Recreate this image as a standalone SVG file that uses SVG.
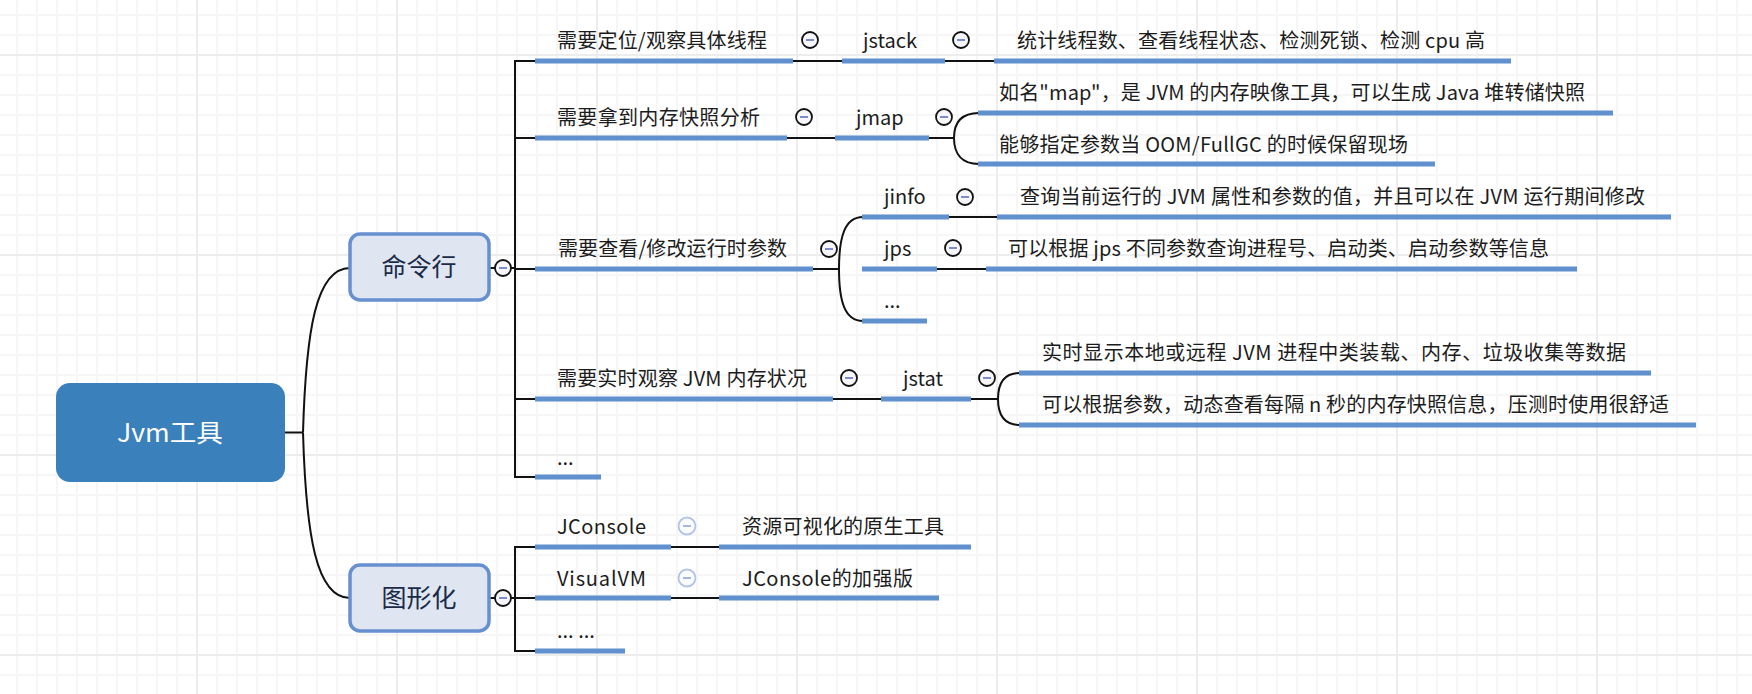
<svg xmlns="http://www.w3.org/2000/svg" width="1752" height="694" viewBox="0 0 1752 694">
<style>
.t{font-family:"Noto Sans CJK SC","Noto Sans",sans-serif;font-size:20px;fill:#1c1c1c}
.t1{font-family:"Noto Sans CJK SC","Noto Sans",sans-serif;font-size:25px;fill:#1b2a48;text-anchor:middle}
.rt{font-family:"Noto Sans CJK SC","Noto Sans",sans-serif;font-size:25px;fill:#ffffff;text-anchor:middle}
.ul{stroke:#6190cf;stroke-width:5;fill:none}
.ln{stroke:#111;stroke-width:2;fill:none}
.cb{fill:#f7f7fb;stroke:#111;stroke-width:1.8}
.cm{stroke:#7b8ecb;stroke-width:2}
.lcb{fill:#fbfcff;stroke:#b0c3ea;stroke-width:1.8}
.lcm{stroke:#a5b8e4;stroke-width:2}
.box{fill:#dfe6f1;stroke:#6690d0;stroke-width:3.5}
</style>
<defs>
<pattern id="minor" x="16" y="14" width="20" height="20" patternUnits="userSpaceOnUse">
<path d="M1 0V20M0 1H20" stroke="#f6f6f6" stroke-width="2"/>
</pattern>
<pattern id="major" x="196" y="54" width="200" height="200" patternUnits="userSpaceOnUse">
<path d="M1 0V200M0 1H200" stroke="#ededed" stroke-width="2"/>
</pattern>
</defs>
<rect width="1752" height="694" fill="#ffffff"/>
<rect width="1752" height="694" fill="url(#minor)"/>
<rect width="1752" height="694" fill="url(#major)"/>

<g id="connectors">
<path class="ln" d="M285 432.5H303"/>
<path class="ln" d="M303 432.5C306 330 316 268 350 268"/>
<path class="ln" d="M303 432.5C306 535 316 598 350 598"/>
<path class="ln" d="M489 268H495M511 268H515"/>
<path class="ln" d="M489 598H495M511 598H515"/>
<path class="ln" d="M537 61H515V477H537M515 138H537M515 269H537M515 399H537"/>
<path class="ln" d="M537 547H515V651H537M515 598H537"/>
<path class="ln" d="M792 61H843M944 61H995"/>
<path class="ln" d="M786 138H836M928 138H954"/>
<path class="ln" d="M979 113C962 113 954 122 954 138C954 154 962 164 979 164"/>
<path class="ln" d="M812 269H839"/>
<path class="ln" d="M863 217C845 217 839 236 839 269C839 302 845 321 863 321"/>
<path class="ln" d="M948 217H998M936 269H987"/>
<path class="ln" d="M832 399H883M970 399H998"/>
<path class="ln" d="M1020 373C1004 373 998 384 998 399C998 414 1004 425 1020 425"/>
<path class="ln" d="M670 547H720M670 598H720"/>
</g>

<g id="root">
<rect x="56" y="383" width="229" height="99" rx="14" fill="#3a81bb"/>
<text class="rt" x="170" y="442" textLength="106" lengthAdjust="spacingAndGlyphs">Jvm工具</text>
</g>

<g id="cmdline">
<rect class="box" x="350" y="234" width="139" height="66" rx="10"/>
<text class="t1" x="419" y="276">命令行</text>
<circle class="cb" cx="503" cy="268" r="8"/><path class="cm" d="M499 268H507"/>
</g>

<g id="gui">
<rect class="box" x="350" y="565" width="139" height="66" rx="10"/>
<text class="t1" x="419" y="607">图形化</text>
<circle class="cb" cx="503" cy="598" r="8"/><path class="cm" d="M499 598H507"/>
</g>

<g id="n-thread">
<path class="ul" d="M535 61H793"/>
<text class="t" x="557" y="48" textLength="210" lengthAdjust="spacing">需要定位/观察具体线程</text>
<circle class="cb" cx="810" cy="40" r="8"/><path class="cm" d="M806 40H814"/>
</g>
<g id="n-jstack">
<path class="ul" d="M842 61H945"/>
<text class="t" x="863" y="48">jstack</text>
<circle class="cb" cx="961" cy="40" r="8"/><path class="cm" d="M957 40H965"/>
</g>
<g id="n-jstack-desc">
<path class="ul" d="M994 61H1511"/>
<text class="t" x="1017" y="48" textLength="468" lengthAdjust="spacing">统计线程数、查看线程状态、检测死锁、检测 cpu 高</text>
</g>

<g id="n-heap">
<path class="ul" d="M535 138H787"/>
<text class="t" x="557" y="125" textLength="203" lengthAdjust="spacing">需要拿到内存快照分析</text>
<circle class="cb" cx="804" cy="117" r="8"/><path class="cm" d="M800 117H808"/>
</g>
<g id="n-jmap">
<path class="ul" d="M835 138H929"/>
<text class="t" x="856" y="125">jmap</text>
<circle class="cb" cx="944" cy="117" r="8"/><path class="cm" d="M940 117H948"/>
</g>
<g id="n-jmap-desc1">
<path class="ul" d="M978 113H1613"/>
<text class="t" x="999" y="100" textLength="586" lengthAdjust="spacing">如名"map"，是 JVM 的内存映像工具，可以生成 Java 堆转储快照</text>
</g>
<g id="n-jmap-desc2">
<path class="ul" d="M978 164H1435"/>
<text class="t" x="999" y="152" textLength="409" lengthAdjust="spacing">能够指定参数当 OOM/FullGC 的时候保留现场</text>
</g>

<g id="n-params">
<path class="ul" d="M535 269H813"/>
<text class="t" x="558" y="256" textLength="229" lengthAdjust="spacing">需要查看/修改运行时参数</text>
<circle class="cb" cx="829" cy="249" r="8"/><path class="cm" d="M825 249H833"/>
</g>
<g id="n-jinfo">
<path class="ul" d="M862 217H949"/>
<text class="t" x="884" y="204">jinfo</text>
<circle class="cb" cx="965" cy="197" r="8"/><path class="cm" d="M961 197H969"/>
</g>
<g id="n-jinfo-desc">
<path class="ul" d="M997 217H1671"/>
<text class="t" x="1020" y="204" textLength="625" lengthAdjust="spacing">查询当前运行的 JVM 属性和参数的值，并且可以在 JVM 运行期间修改</text>
</g>
<g id="n-jps">
<path class="ul" d="M862 269H937"/>
<text class="t" x="884" y="256">jps</text>
<circle class="cb" cx="953" cy="248" r="8"/><path class="cm" d="M949 248H957"/>
</g>
<g id="n-jps-desc">
<path class="ul" d="M986 269H1577"/>
<text class="t" x="1008" y="256" textLength="541" lengthAdjust="spacing">可以根据 jps 不同参数查询进程号、启动类、启动参数等信息</text>
</g>
<g id="n-params-more">
<path class="ul" d="M862 321H927"/>
<text class="t" x="884" y="308">...</text>
</g>

<g id="n-realtime">
<path class="ul" d="M535 399H833"/>
<text class="t" x="557" y="386" textLength="250" lengthAdjust="spacing">需要实时观察 JVM 内存状况</text>
<circle class="cb" cx="849" cy="378" r="8"/><path class="cm" d="M845 378H853"/>
</g>
<g id="n-jstat">
<path class="ul" d="M881 399H971"/>
<text class="t" x="903" y="386">jstat</text>
<circle class="cb" cx="987" cy="378" r="8"/><path class="cm" d="M983 378H991"/>
</g>
<g id="n-jstat-desc1">
<path class="ul" d="M1019 373H1651"/>
<text class="t" x="1042" y="360" textLength="584" lengthAdjust="spacing">实时显示本地或远程 JVM 进程中类装载、内存、垃圾收集等数据</text>
</g>
<g id="n-jstat-desc2">
<path class="ul" d="M1019 425H1696"/>
<text class="t" x="1042" y="412" textLength="627" lengthAdjust="spacing">可以根据参数，动态查看每隔 n 秒的内存快照信息，压测时使用很舒适</text>
</g>
<g id="n-cmd-more">
<path class="ul" d="M535 477H601"/>
<text class="t" x="557" y="465">...</text>
</g>

<g id="n-jconsole">
<path class="ul" d="M535 547H671"/>
<text class="t" x="557" y="534" textLength="89" lengthAdjust="spacing">JConsole</text>
<circle class="lcb" cx="687" cy="526" r="8.5"/><path class="lcm" d="M683 526H691"/>
</g>
<g id="n-jconsole-desc">
<path class="ul" d="M719 547H971"/>
<text class="t" x="742" y="534" textLength="202" lengthAdjust="spacing">资源可视化的原生工具</text>
</g>
<g id="n-visualvm">
<path class="ul" d="M535 598H671"/>
<text class="t" x="557" y="586" textLength="89" lengthAdjust="spacing">VisualVM</text>
<circle class="lcb" cx="687" cy="578" r="8.5"/><path class="lcm" d="M683 578H691"/>
</g>
<g id="n-visualvm-desc">
<path class="ul" d="M719 598H939"/>
<text class="t" x="742" y="586" textLength="171" lengthAdjust="spacing">JConsole的加强版</text>
</g>
<g id="n-gui-more">
<path class="ul" d="M535 651H625"/>
<text class="t" x="557" y="638">... ...</text>
</g>
</svg>
